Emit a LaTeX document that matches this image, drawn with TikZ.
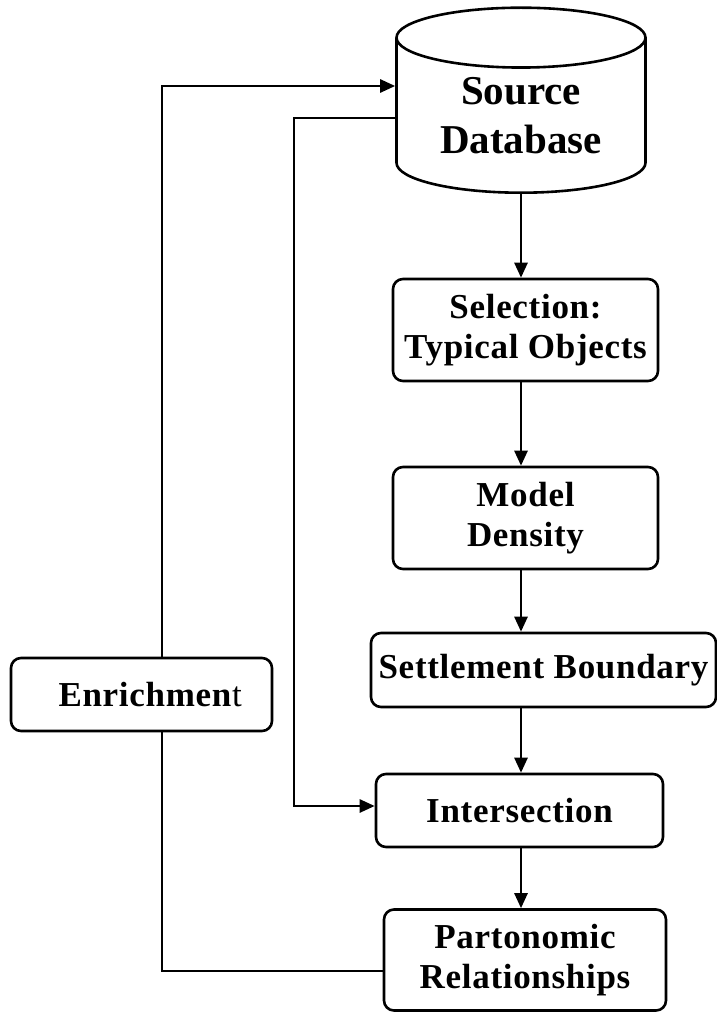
\documentclass[tikz,border=0pt]{standalone}
\usepackage{fontspec}
\setmainfont{Liberation Serif}
\usetikzlibrary{shapes.geometric,arrows.meta}
\tikzset{
  flow box/.style={
    draw,
    line width=2.6pt,
    rounded corners=10pt,
    align=center,
    inner sep=0pt,
    font=\fontsize{35}{40}\selectfont\bfseries\addfontfeature{LetterSpace=2},
  },
  source db/.style={
    draw,
    line width=2.6pt,
    cylinder,
    shape border rotate=90,
    aspect=0.37,
    align=center,
    inner sep=0pt,
    font=\fontsize{41}{49}\selectfont\bfseries,
  },
  link/.style={
    line width=2.6pt,
  },
  flow/.style={
    link,
    -{Triangle[length=15pt,width=13pt]},
  }
}
\begin{document}
\begin{tikzpicture}[x=1pt,y=-1pt]
        \useasboundingbox (0,0) rectangle (717,1014);

        \node [source db, minimum width=249pt, minimum height=185pt, anchor=south] (db) at (521,194) {Source\\Database};
        \node [flow box, minimum width=265pt, minimum height=102pt] (sel) at (525.5,330) {Selection:\\Typical Objects};
        \node [flow box, minimum width=265pt, minimum height=102pt] (model) at (525.5,518) {Model\\Density};
        \node [flow box, minimum width=345pt, minimum height=74pt] (settle) at (543.5,670) {Settlement Boundary};
        \node [flow box, minimum width=287pt, minimum height=73pt] (inter) at (519.5,810.5) {Intersection};
        \node [flow box, minimum width=282pt, minimum height=101pt] (part) at (525,960) {Partonomic\\Relationships};
        \node [flow box, minimum width=261pt, minimum height=73pt] (enrich) at (141.5,694.5) {\hspace*{18pt}Enrichmen\textmd{t}};

        \draw [flow] (db.south) -- (db.south |- sel.north);
        \draw [flow] (sel.south -| db.south) -- (model.north -| db.south);
        \draw [flow] (model.south -| db.south) -- (settle.north -| db.south);
        \draw [flow] (settle.south -| db.south) -- (inter.north -| db.south);
        \draw [flow] (inter.south -| db.south) -- (part.north -| db.south);

        \draw [link] (part.west |- 0,971) -| (enrich.south -| 162,0);
        \draw [flow] (enrich.north -| 162,0) |- (db.west |- 0,86);
        \draw [flow] (db.west |- 0,118) -| (294,806) -- (inter.west |- 0,806);
    \end{tikzpicture}
\end{document}
